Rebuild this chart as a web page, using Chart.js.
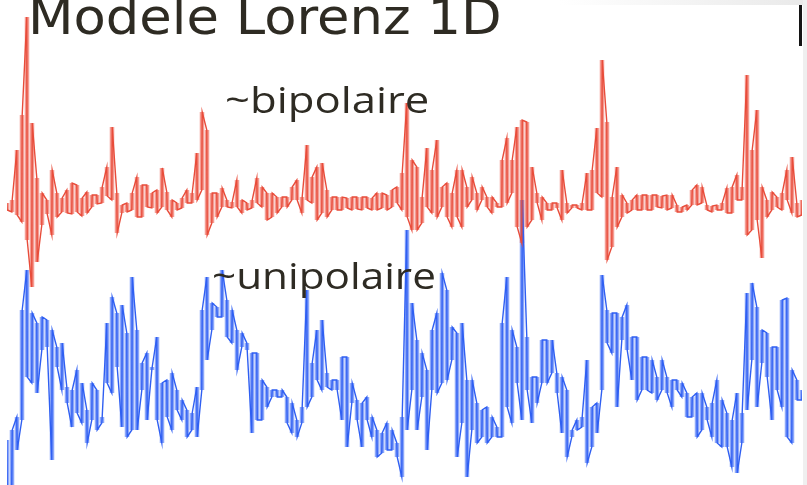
<!DOCTYPE html>
<html>
<head>
<meta charset="utf-8">
<title>Modele Lorenz 1D</title>
<script src="https://cdn.jsdelivr.net/npm/chart.js@4/dist/chart.umd.min.js"></script>
<style>
  html, body { margin: 0; padding: 0; background: #fff; }
  #wrap { position: relative; width: 807px; height: 485px; overflow: hidden; background: #fff; }
  #chart { position: absolute; left: 0; top: 0; }
  .lbl { position: absolute; left: 0; top: 0; white-space: nowrap; color: #2e2b23; transform-origin: 0 0; line-height: 1.2; }
  #title { font-family: "DejaVu Sans", sans-serif; font-size: 50px; }
  #lblBi { font-family: "Open Sans", sans-serif; font-size: 36px; }
  #lblUni { font-family: "Open Sans", sans-serif; font-size: 37px; }
  .deco { position: absolute; }
</style>
</head>
<body>
<div id="wrap">
  <canvas id="chart" width="807" height="485"></canvas>
  <div class="deco" style="left:560px;top:0;width:247px;height:5px;background:linear-gradient(to right,#ffffff,#e9e9e9);"></div>
  <div class="deco" style="left:803px;top:0;width:4px;height:485px;background:#efefef;"></div>
  <div class="deco" style="left:799px;top:5px;width:3px;height:41px;background:#141414;"></div>
  <div id="title" class="lbl">Modele Lorenz 1D</div>
  <div id="lblBi" class="lbl">~bipolaire</div>
  <div id="lblUni" class="lbl">~unipolaire</div>
</div>
<script>
// Bipolar lead: per-sample signal envelope (upper / lower excursion, mV)
const redHigh = [
  0.7,1.0,6.0,9.5,19.3,8.7,3.2,1.7,1.0,4.0,
  1.7,1.2,2.0,2.7,2.5,1.2,1.8,1.5,1.5,2.3,
  4.3,8.3,1.7,0.5,0.7,1.7,3.3,2.5,2.5,1.7,
  2.0,4.2,1.8,1.0,0.7,1.2,2.0,1.7,5.7,9.8,
  8.0,1.7,1.7,2.2,1.0,0.8,3.0,1.0,0.7,1.0,
  3.2,2.3,1.7,1.7,1.3,1.3,1.3,2.3,3.0,1.3,
  6.5,3.3,4.3,4.7,2.0,1.3,1.3,1.3,1.2,1.3,
  1.3,1.3,1.3,1.2,1.7,1.7,1.5,2.0,2.3,3.7,
  10.7,5.0,4.3,1.3,6.2,4.0,7.0,2.3,2.7,1.7,
  4.0,4.0,2.3,3.3,1.7,2.3,1.3,1.3,0.7,5.0,
  7.2,5.0,8.3,9.0,8.8,4.3,1.7,1.3,0.7,0.7,
  0.7,4.0,0.7,0.5,0.5,0.7,3.7,4.0,8.2,15.0,
  8.8,1.3,4.3,1.5,0.7,1.0,1.5,1.5,1.5,1.5,
  1.5,1.4,1.5,1.5,0.5,0.3,0.5,2.0,2.5,2.3,
  0.5,0.4,0.5,0.7,2.2,2.3,3.5,2.3,13.5,6.0,
  10.0,2.3,1.0,1.8,1.3,1.7,4.0,5.3,0.7,1.0
];
const redLow = [
  0,-0.2,-0.5,-1.2,-3.0,-7.7,-5.2,-1.5,-0.4,-2.5,
  -0.7,-0.2,-0.3,-0.4,-0.2,-0.6,-0.3,0.3,0.6,0.7,
  1.4,1.0,-2.3,-0.3,-0.2,0,-0.7,-0.7,0.3,0.2,
  -0.3,0.3,0,-0.7,0,0.2,0.7,0.7,1.0,2.0,
  -2.5,-1.3,-0.7,0.3,0.3,0.2,0.3,-0.3,0,0.2,
  0.7,0.3,-1.0,-0.7,-0.3,0.3,0.3,1.0,1.0,-0.3,
  1.0,0.7,-1.0,-0.3,-0.7,0,0,0,0.2,0,
  0.1,0,0.2,0,0,0.2,0,0.3,0.7,0,
  -0.7,-2.0,-2.0,-1.3,0.3,-0.3,-0.7,0.3,-0.7,-1.7,
  -0.7,-1.7,0.3,1.0,0,1.0,0.3,-0.3,0.3,0.3,
  0.7,1.7,-1.7,-3.3,-1.7,-1.0,0.7,-1.0,0,0,
  0.2,-1.0,-0.3,0.2,0.2,0,0,0,1.7,1.3,
  -5.0,-3.7,-1.7,-0.7,-0.3,0,0,0,0,0,
  0.3,0.2,0,0.2,-0.2,-0.2,0,0.5,0.5,0.7,
  0,-0.2,0,0,-0.3,-0.3,1.0,1.0,-2.5,-2.0,
  -1.0,-4.8,-0.7,0,0.3,0,1.0,-0.3,-0.7,-0.5
];

// Unipolar lead: per-sample signal envelope (upper / lower excursion, mV)
const blueHigh = [
  -6.0,-5.0,-3.7,7.0,11.0,6.7,5.7,6.3,6.0,5.0,
  3.3,3.7,-0.7,-1.0,1.0,-0.3,-3.0,-0.3,-1.0,-3.7,
  5.7,8.3,6.7,7.5,4.7,10.3,5.0,1.7,2.7,1.3,
  4.3,-0.3,0,0.7,-1.0,-2.0,-3.0,-3.3,-0.7,7.0,
  10.3,7.7,7.3,11.0,8.0,7.0,5.0,4.7,3.7,2.7,
  2.7,0,-0.7,-1.0,-1.0,-1.0,-1.7,-2.3,-4.0,-2.7,
  9.0,1.7,5.0,6.0,0.7,0,0,2.3,2.3,-0.3,
  -2.0,-2.3,-1.7,-3.7,-5.0,-5.3,-4.3,-5.0,-6.3,-3.7,
  15.0,7.7,4.0,2.7,1.0,5.0,6.7,10.7,9.0,5.3,
  4.7,5.7,0,0,-2.3,-3.0,-2.7,-3.7,-4.7,5.7,
  10.3,5.0,3.3,18.0,4.3,0.3,0.3,4.0,4.0,4.0,
  0.7,0.3,-1.0,-5.0,-4.0,-3.7,2.0,-2.7,-2.3,10.5,
  7.0,6.7,6.7,6.3,7.5,4.3,4.3,2.3,2.3,2.0,
  0.3,2.0,0.3,0,0,-0.3,-1.3,-1.7,-1.3,-1.3,
  -2.7,-2.3,0,-2.0,-3.3,-4.0,-1.3,-3.3,8.7,9.7,
  7.3,5.0,4.7,3.3,3.3,8.0,8.2,1.0,0,-1.0
];
const blueLow = [
  -11.0,-10.5,-7.0,-4.0,0.3,-0.3,-1.3,3.0,3.3,-8.0,
  1.3,-1.0,-2.3,-4.7,-3.3,-4.3,-6.3,-4.0,-5.0,-4.3,
  -0.3,-1.3,1.3,-4.7,-5.7,-5.0,-5.0,-1.0,-4.0,1.0,
  -4.0,-6.3,-3.7,-5.0,-3.0,-4.0,-5.7,-5.0,-5.7,-1.0,
  2.0,5.0,6.3,6.3,4.3,3.7,1.0,3.3,3.0,-5.3,
  -4.0,-4.0,-2.7,-1.7,-1.7,-1.7,-4.3,-5.3,-5.7,-4.3,
  -2.7,-1.7,0,-1.0,-0.7,-1.0,-1.0,-4.0,-6.7,-2.3,
  -4.0,-6.7,-4.0,-5.7,-7.7,-7.3,-7.0,-7.0,-7.7,-9.7,
  -5.0,-1.0,-5.0,-1.7,-7.0,-1.0,-1.3,-0.3,0,2.0,
  -7.7,-4.3,-9.7,-5.0,-6.3,-5.7,-6.3,-5.7,-5.7,-5.7,
  -2.7,-4.3,-0.3,-4.0,-1.0,-4.3,-2.3,-0.3,-0.3,0.7,
  -1.3,-5.3,-7.7,-5.7,-5.0,-4.7,-8.3,-6.7,-5.3,-1.0,
  3.7,2.7,-2.7,4.0,3.0,0,-2.0,-1.0,-1.0,-1.3,
  -2.0,-1.0,-1.3,-2.7,-1.0,-1.7,-3.7,-3.7,-5.7,-5.0,
  -4.0,-5.7,-6.3,-6.7,-6.7,-8.7,-9.3,-6.3,-3.0,2.0,
  -2.7,1.7,0.3,-4.0,-1.0,-2.7,-5.7,-6.3,-2.0,-2.0
];

// Sample numbers along the time axis
const samples = redHigh.map((_, i) => i);

// Envelope as floating bars, one per sample
function envelope(hi, lo) {
  return hi.map((h, i) => [lo[i], h]);
}
// Trace sweeping through each sample's excursion (alternating direction)
function trace(hi, lo) {
  const pts = [];
  hi.forEach((h, i) => {
    const a = i % 2 ? lo[i] : h;
    const b = i % 2 ? h : lo[i];
    pts.push({ x: i - 0.04, y: a }, { x: i + 0.04, y: b });
  });
  return pts;
}

new Chart(document.getElementById('chart'), {
  type: 'bar',
  data: {
    labels: samples,
    datasets: [
      {
        type: 'line', label: 'unipolaire trace', data: trace(blueHigh, blueLow),
        xAxisID: 'xT', yAxisID: 'yB', borderColor: '#2f5ff2', borderWidth: 1.4,
        pointRadius: 0, tension: 0, order: 1
      },
      {
        type: 'line', label: 'bipolaire trace', data: trace(redHigh, redLow),
        xAxisID: 'xT', yAxisID: 'yR', borderColor: '#e84c3a', borderWidth: 1.4,
        pointRadius: 0, tension: 0, order: 0
      },
      {
        type: 'bar', label: 'unipolaire', data: envelope(blueHigh, blueLow),
        xAxisID: 'x', yAxisID: 'yB',
        backgroundColor: 'rgba(45, 95, 245, 0.55)', borderWidth: 0,
        grouped: false, barPercentage: 0.9, categoryPercentage: 1, order: 3
      },
      {
        type: 'bar', label: 'bipolaire', data: envelope(redHigh, redLow),
        xAxisID: 'x', yAxisID: 'yR',
        backgroundColor: 'rgba(236, 74, 58, 0.55)', borderWidth: 0,
        grouped: false, barPercentage: 0.9, categoryPercentage: 1, order: 2
      }
    ]
  },
  options: {
    responsive: false,
    animation: false,
    events: [],
    layout: { padding: { left: 7, right: 5, top: 0, bottom: 0 } },
    plugins: { legend: { display: false }, tooltip: { enabled: false }, title: { display: false } },
    scales: {
      x: { type: 'category', offset: false, display: false },
      xT: { type: 'linear', offset: false, min: 0, max: samples.length - 1, display: false },
      yR: { type: 'linear', min: -27.5, max: 21, display: false },
      yB: { type: 'linear', min: -10.5, max: 38, display: false }
    }
  }
});

// Place a text label by its left edge, baseline and rendered width
function place(id, left, baseline, width) {
  const el = document.getElementById(id);
  const probe = document.createElement('span');
  probe.style.cssText = 'display:inline-block;width:0;height:0;vertical-align:baseline;';
  el.appendChild(probe);
  const base = probe.offsetTop;
  el.removeChild(probe);
  const w = el.offsetWidth;
  el.style.left = left + 'px';
  el.style.top = (baseline - base) + 'px';
  el.style.transform = 'scaleX(' + (width / w) + ')';
}
function layoutLabels() {
  place('title', 28, 34, 474);
  place('lblBi', 225, 113, 205);
  place('lblUni', 212, 289, 224);
}
layoutLabels();
if (document.fonts && document.fonts.ready) document.fonts.ready.then(layoutLabels);
</script>
</body>
</html>
